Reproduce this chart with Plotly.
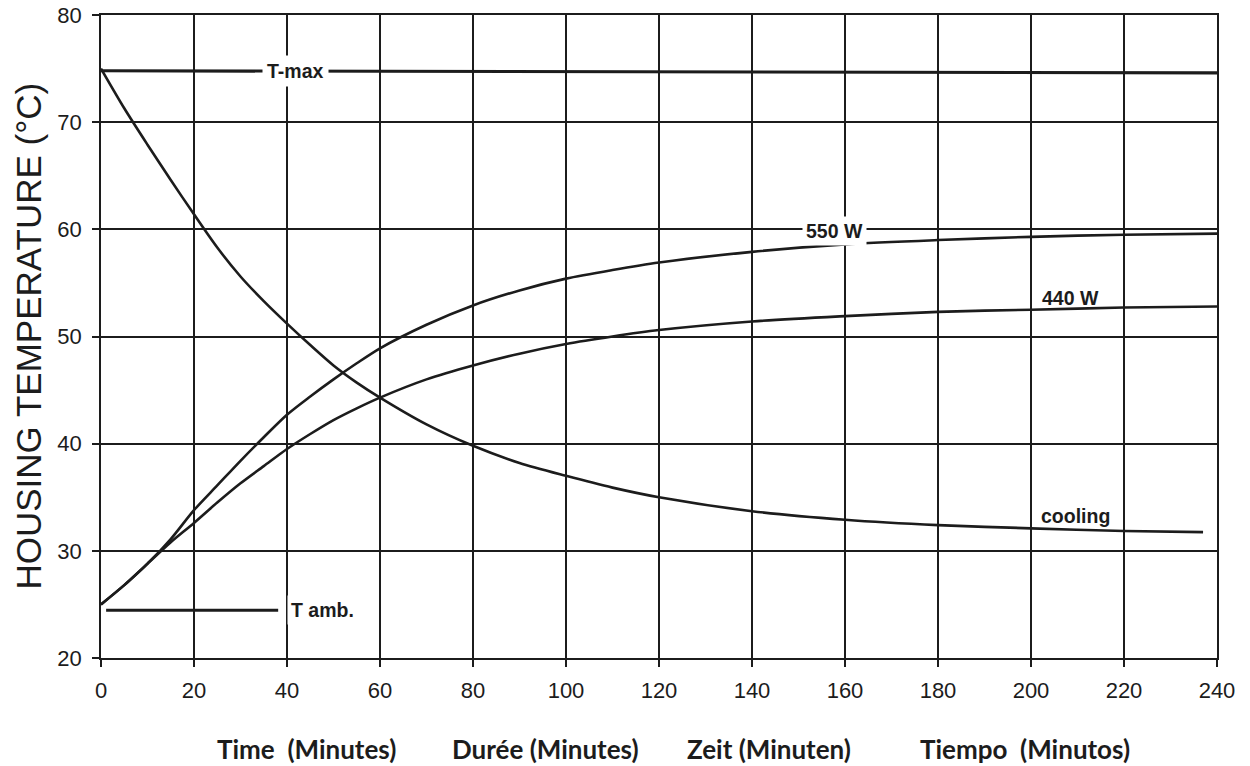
import plotly.graph_objects as go

# ---- data ----
minutes_550 = [0, 5, 10, 15, 20, 25, 30, 35, 40, 45, 50, 55, 60, 70, 80, 90, 100, 110, 120, 140, 160, 180, 200, 220, 240]
temp_550 = [25.0, 26.8, 28.8, 31.1, 33.8, 36.1, 38.4, 40.6, 42.7, 44.4, 46.0, 47.5, 48.9, 51.1, 52.9, 54.3, 55.4, 56.2, 56.9, 57.9, 58.6, 59.0, 59.3, 59.5, 59.6]

minutes_440 = [0, 5, 10, 15, 20, 25, 30, 35, 40, 45, 50, 55, 60, 70, 80, 90, 100, 110, 120, 140, 160, 180, 200, 220, 240]
temp_440 = [25.0, 26.8, 28.8, 30.8, 32.6, 34.5, 36.3, 37.9, 39.5, 40.9, 42.2, 43.3, 44.3, 46.0, 47.3, 48.4, 49.3, 50.0, 50.6, 51.4, 51.9, 52.3, 52.5, 52.7, 52.8]

minutes_cool = [0, 5, 10, 15, 20, 25, 30, 35, 40, 45, 50, 55, 60, 70, 80, 90, 100, 110, 120, 140, 160, 180, 200, 220, 237]
temp_cool = [75.0, 71.3, 67.9, 64.6, 61.4, 58.3, 55.6, 53.3, 51.2, 49.2, 47.3, 45.7, 44.3, 41.8, 39.8, 38.2, 37.0, 35.9, 35.0, 33.7, 32.9, 32.4, 32.1, 31.85, 31.75]

tmax_x = [0, 240]
tmax_y = [74.8, 74.6]

tamb_x = [1.1, 38.1]
tamb_y = [24.45, 24.45]

x_ticks = [0, 20, 40, 60, 80, 100, 120, 140, 160, 180, 200, 220, 240]
y_ticks = [20, 30, 40, 50, 60, 70, 80]

x_titles = ["Time  (Minutes)", "Durée (Minutes)", "Zeit (Minuten)", "Tiempo  (Minutos)"]
x_title_pos = [0.1837, 0.3987, 0.5986, 0.828]

INK = "#1c1c1c"
BASE_FONT = "Liberation Sans, Arial, sans-serif"

fig = go.Figure()

for xs, ys in [(minutes_550, temp_550), (minutes_440, temp_440), (minutes_cool, temp_cool)]:
    fig.add_trace(go.Scatter(x=xs, y=ys, mode="lines",
                             line=dict(color=INK, width=2.6, shape="spline", smoothing=0.8),
                             hoverinfo="skip", showlegend=False))

fig.add_trace(go.Scatter(x=tmax_x, y=tmax_y, mode="lines",
                         line=dict(color=INK, width=3.2), hoverinfo="skip", showlegend=False))
fig.add_trace(go.Scatter(x=tamb_x, y=tamb_y, mode="lines",
                         line=dict(color=INK, width=3), hoverinfo="skip", showlegend=False))

label_font = dict(family=BASE_FONT, size=19.5, color=INK, weight="bold")

fig.add_annotation(x=41.9, y=74.75, text="<b>T-max</b>", showarrow=False,
                   font=label_font, bgcolor="white", borderpad=4, xanchor="center", yanchor="middle")
fig.add_annotation(x=39.9, y=24.45, text="<b>T amb.</b>", showarrow=False,
                   font=label_font, bgcolor="white", borderpad=3, xanchor="left", yanchor="middle")
fig.add_annotation(x=157.8, y=59.8, text="<b>550 W</b>", showarrow=False,
                   font=label_font, bgcolor="white", borderpad=3, xanchor="center", yanchor="middle")
fig.add_annotation(x=208.4, y=53.6, text="<b>440 W</b>", showarrow=False,
                   font=label_font, xanchor="center", yanchor="middle")
fig.add_annotation(x=209.5, y=33.25, text="<b>cooling</b>", showarrow=False,
                   font=label_font, xanchor="center", yanchor="middle")

# y-axis title
fig.add_annotation(xref="paper", yref="paper", x=-0.0654, y=0.5, text="HOUSING TEMPERATURE (°C)",
                   textangle=-90, showarrow=False, xanchor="center", yanchor="middle",
                   font=dict(family=BASE_FONT, size=35, color=INK))

# x-axis titles (four languages)
for t, px in zip(x_titles, x_title_pos):
    fig.add_annotation(xref="paper", yref="paper", x=px, y=-0.141, text="<b>" + t + "</b>",
                       showarrow=False, xanchor="center", yanchor="middle",
                       font=dict(family="Lato, Roboto, sans-serif", size=26, color=INK, weight="bold"))

axis_common = dict(showgrid=True, gridcolor=INK, gridwidth=1.5,
                   ticks="outside", ticklen=7, tickwidth=1.5, tickcolor=INK,
                   showline=True, linecolor=INK, linewidth=1.5, mirror=True,
                   zeroline=False, automargin=False,
                   tickfont=dict(family=BASE_FONT, size=22, color=INK))

fig.update_xaxes(range=[0, 240], tickvals=x_ticks, ticklabelstandoff=5, **axis_common)
fig.update_yaxes(range=[20, 80], tickvals=y_ticks, ticklabelstandoff=6, **axis_common)

fig.update_layout(width=1250, height=766,
                  margin=dict(l=101, r=33, t=15, b=108),
                  paper_bgcolor="white", plot_bgcolor="white",
                  font=dict(family=BASE_FONT, color=INK))

fig.write_html("out.html", config={"displayModeBar": False},
               post_script="document.body.style.margin='0px';")
